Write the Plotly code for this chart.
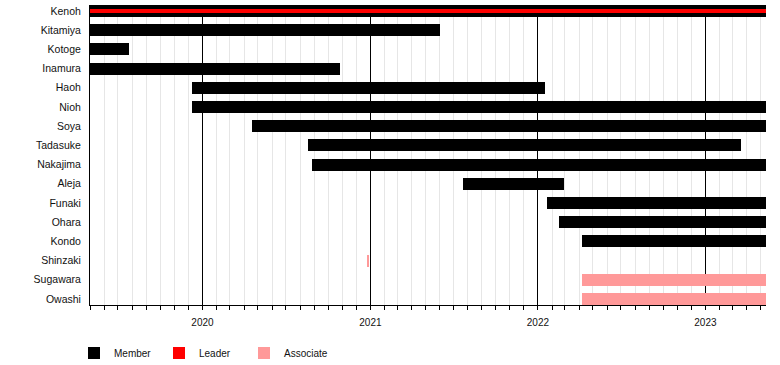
import pandas as pd
import plotly.graph_objects as go

# ---- data ----
END = "2023-05-13"
START = "2019-05-01"

names = ["Kenoh", "Kitamiya", "Kotoge", "Inamura", "Haoh", "Nioh", "Soya",
         "Tadasuke", "Nakajima", "Aleja", "Funaki", "Ohara", "Kondo",
         "Shinzaki", "Sugawara", "Owashi"]

member_names = ["Kenoh", "Kitamiya", "Kotoge", "Inamura", "Haoh", "Nioh", "Soya",
                "Tadasuke", "Nakajima", "Aleja", "Funaki", "Ohara", "Kondo"]
member_start = ["2019-05-01", "2019-05-01", "2019-05-01", "2019-05-01", "2019-12-10",
                "2019-12-10", "2020-04-17", "2020-08-19", "2020-08-27", "2021-07-21",
                "2022-01-21", "2022-02-16", "2022-04-07"]
member_end = [END, "2021-06-01", "2019-07-26", "2020-10-27", "2022-01-16",
              END, END, "2023-03-20", END, "2022-02-26",
              END, END, END]

leader_names = ["Kenoh"]
leader_start = ["2019-05-01"]
leader_end = [END]

assoc_names = ["Shinzaki", "Sugawara", "Owashi"]
assoc_start = ["2020-12-25", "2022-04-07", "2022-04-07"]
assoc_end = ["2020-12-27", END, END]

year_ticks = ["2020-01-01", "2021-01-01", "2022-01-01", "2023-01-01"]

colors = {"Member": "#000000", "Leader": "#ff0000", "Associate": "#ff9999"}


def durations(starts, ends):
    return [(pd.Timestamp(e) - pd.Timestamp(s)).total_seconds() * 1000
            for s, e in zip(starts, ends)]


fig = go.Figure()
for label, ns, ss, es, w in [
    ("Member", member_names, member_start, member_end, 0.625),
    ("Leader", leader_names, leader_start, leader_end, 0.21),
    ("Associate", assoc_names, assoc_start, assoc_end, 0.625),
]:
    fig.add_trace(go.Bar(
        y=ns, x=durations(ss, es), base=ss, orientation="h", width=w,
        name=label, marker=dict(color=colors[label], line=dict(width=0)),
        hoverinfo="skip",
    ))

font = dict(family="Liberation Sans, Arial, sans-serif", size=10, color="#111111")

fig.update_layout(
    width=780, height=365,
    margin=dict(l=90, r=14, t=5, b=60),
    paper_bgcolor="white", plot_bgcolor="white",
    barmode="overlay", bargap=0,
    font=font,
    showlegend=True,
    legend=dict(
        orientation="h", xref="container", yref="container",
        x=74 / 780, y=1 - 353 / 365, xanchor="left", yanchor="middle",
        entrywidth=40, entrywidthmode="pixels",
        font=font, traceorder="normal", itemclick=False,
    ),
    xaxis=dict(
        type="date", range=[START, END],
        tickmode="array", tickvals=year_ticks, tickformat="%Y",
        showgrid=True, gridcolor="#000000", gridwidth=1,
        ticks="outside", ticklen=4, tickcolor="#000000", tickwidth=1,
        showline=True, linecolor="#000000", linewidth=1,
        ticklabelstandoff=4,
        minor=dict(dtick="M1", tick0=START, showgrid=True, gridcolor="#e6e6e6",
                   gridwidth=1, ticks="outside", ticklen=4, tickcolor="#000000"),
        zeroline=False, fixedrange=True,
    ),
    yaxis=dict(
        type="category", categoryorder="array", categoryarray=names,
        range=[len(names) - 1 + 0.3125, -0.3125],
        showgrid=False, showline=True, linecolor="#000000", linewidth=1,
        ticks="", ticklabelstandoff=6, zeroline=False, fixedrange=True,
        tickfont=dict(size=10.5),
    ),
)

fig.write_html("out.html", config={"displayModeBar": False},
               post_script="document.body.style.margin='0';")
